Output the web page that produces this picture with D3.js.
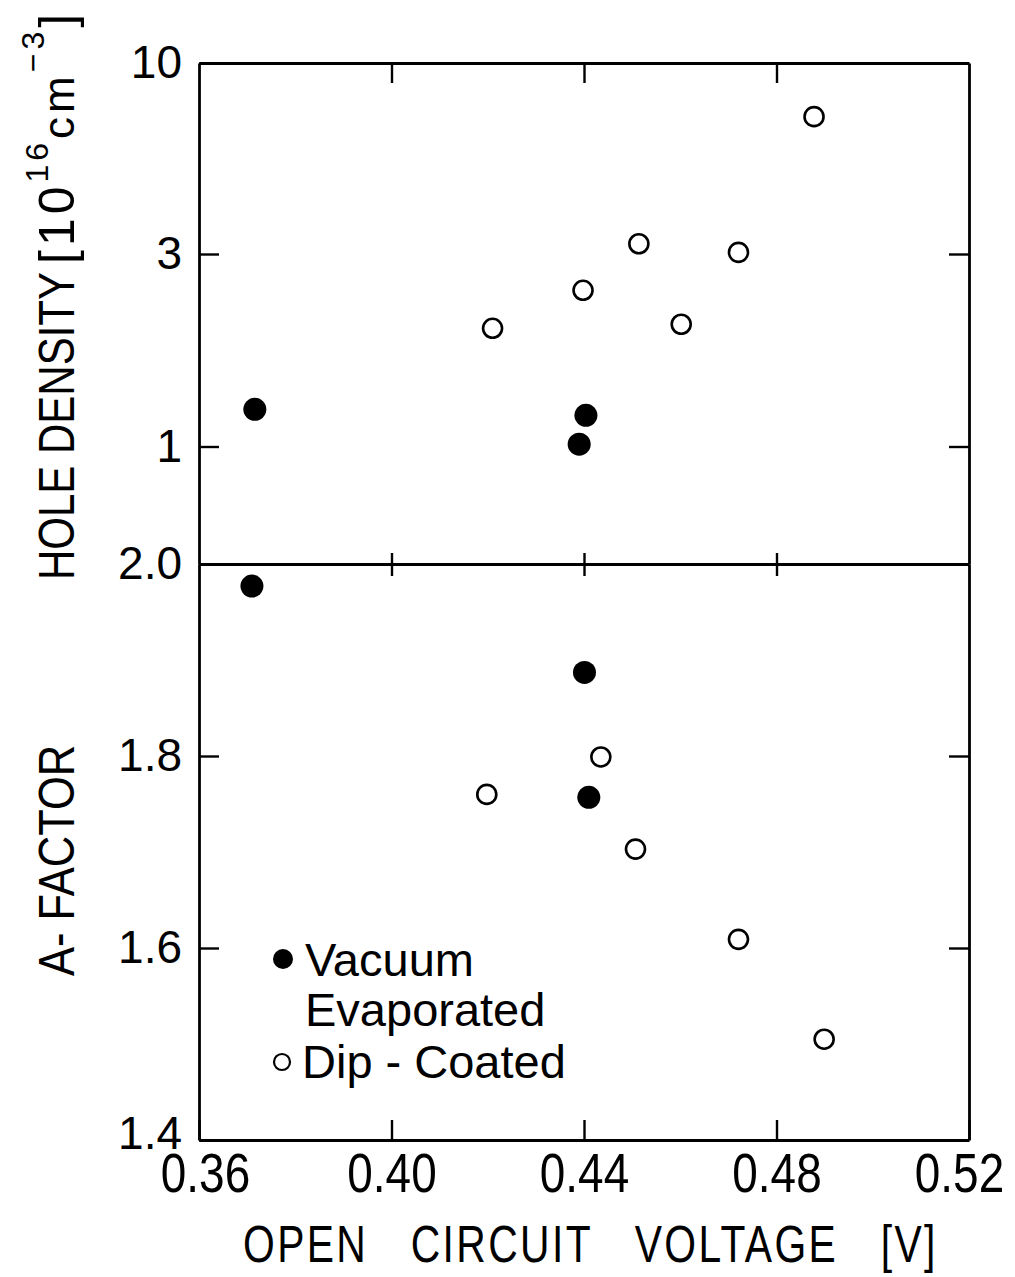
<!DOCTYPE html>
<html>
<head>
<meta charset="utf-8">
<script src="https://cdn.jsdelivr.net/npm/d3@7"></script>
<style>
  html, body { margin: 0; padding: 0; background: #fff; }
  svg { display: block; }
  .lab { font-family: "Liberation Sans", Arial, sans-serif; fill: #000; }
</style>
</head>
<body>
<svg id="chart" width="1015" height="1277"></svg>
<script>
// Open-circuit voltage of each cell [V] against hole density [1e16 cm^-3]
const vacuumVoc_density   = [0.3716, 0.4404, 0.4390];
const vacuumDensity       = [1.236, 1.195, 1.013];
const dipVoc_density      = [0.4210, 0.4398, 0.4514, 0.4602, 0.4721, 0.4878];
const dipDensity          = [1.963, 2.439, 3.20, 2.009, 3.03, 7.13];

// Open-circuit voltage against diode A-factor
const vacuumVoc_a = [0.3710, 0.4401, 0.4410];
const vacuumA     = [1.977, 1.887, 1.757];
const dipVoc_a    = [0.4198, 0.4435, 0.4507, 0.4721, 0.4899];
const dipA        = [1.760, 1.799, 1.703, 1.609, 1.505];

// Axis ticks
const xTicks       = [0.36, 0.40, 0.44, 0.48, 0.52];
const densityTicks = [1, 3, 10];
const aTicks       = [1.4, 1.6, 1.8, 2.0];
const legendItems  = [
  { lines: ["Vacuum", "Evaporated"], filled: true },
  { lines: ["Dip - Coated"], filled: false }
];

const svg = d3.select("#chart");
const L = 199, R = 969, T = 63, M = 564, B = 1140;

const x = d3.scaleLinear().domain([0.36, 0.52]).range([L, R]);
// hand-ruled log axis: decade spacing follows the printed tick marks
const yTop = d3.scaleLog().domain([0.5, 1, 3, 10]).range([M, 446.5, 254, T]);
const yBot = d3.scaleLinear().domain([1.4, 2.0]).range([B, M]);

const LW = 2.8, TICK = 20;

function style(g) {
  g.selectAll("path.domain").attr("stroke", "#000").attr("stroke-width", LW);
  g.selectAll(".tick line").attr("stroke", "#000").attr("stroke-width", 2.4);
  g.selectAll(".tick text").attr("class", "lab").attr("fill", "#000");
}

// ---- top panel: hole density ----
svg.append("g").attr("transform", `translate(${L},0)`)
  .call(d3.axisLeft(yTop).tickValues(densityTicks).tickFormat(d3.format("d"))
    .tickSizeInner(-TICK).tickSizeOuter(0).tickPadding(17))
  .call(style)
  .selectAll(".tick text").style("font-size", "46px");

svg.append("g").attr("transform", `translate(${R},0)`)
  .call(d3.axisRight(yTop).tickValues([1, 3]).tickFormat("")
    .tickSizeInner(-TICK).tickSizeOuter(0))
  .call(style);

svg.append("g").attr("transform", `translate(0,${T})`)
  .call(d3.axisTop(x).tickValues(xTicks.slice(1, -1)).tickFormat("")
    .tickSizeInner(-TICK).tickSizeOuter(0))
  .call(style);

// shared divider with crossing ticks
const mid = svg.append("g").attr("transform", `translate(0,${M})`)
  .call(d3.axisBottom(x).tickValues(xTicks.slice(1, -1)).tickFormat("")
    .tickSizeInner(12).tickSizeOuter(0))
  .call(style);
mid.selectAll(".tick line").attr("y1", -11);

// ---- bottom panel: A-factor ----
const aAxis = svg.append("g").attr("transform", `translate(${L},0)`)
  .call(d3.axisLeft(yBot).tickValues(aTicks).tickFormat(d3.format(".1f"))
    .tickSizeInner(-TICK).tickSizeOuter(0).tickPadding(17))
  .call(style);
aAxis.selectAll(".tick text").style("font-size", "46px")
  .attr("y", d => d === 1.4 ? -6 : 0);

svg.append("g").attr("transform", `translate(${R},0)`)
  .call(d3.axisRight(yBot).tickValues([1.6, 1.8]).tickFormat("")
    .tickSizeInner(-TICK).tickSizeOuter(0))
  .call(style);

// x labels: tall, condensed lettering
const xAxis = svg.append("g").attr("transform", `translate(0,${B})`)
  .call(d3.axisBottom(x).tickValues(xTicks).tickFormat(d3.format(".2f"))
    .tickSizeInner(-TICK).tickSizeOuter(0).tickPadding(12))
  .call(style);
xAxis.selectAll(".tick text")
  .style("font-size", "56px")
  .attr("x", 0)
  .attr("transform", d => `translate(${d === 0.36 ? 6 : d === 0.52 ? -10 : 0},0) scale(0.82,1)`);

// ---- markers ----
function plot(xs, ys, yScale, filled) {
  svg.append("g").selectAll("circle")
    .data(xs.map((v, i) => [v, ys[i]]))
    .join("circle")
    .attr("cx", d => x(d[0]))
    .attr("cy", d => yScale(d[1]))
    .attr("r", filled ? 11.5 : 9.5)
    .attr("fill", filled ? "#000" : "#fff")
    .attr("stroke", "#000")
    .attr("stroke-width", filled ? 0 : 2.6);
}
plot(vacuumVoc_density, vacuumDensity, yTop, true);
plot(dipVoc_density, dipDensity, yTop, false);
plot(vacuumVoc_a, vacuumA, yBot, true);
plot(dipVoc_a, dipA, yBot, false);

// ---- legend ----
const lg = svg.append("g");
lg.append("circle").attr("cx", 283).attr("cy", 959).attr("r", 10).attr("fill", "#000");
lg.append("text").attr("class", "lab").attr("x", 305).attr("y", 976)
  .style("font-size", "47px").text(legendItems[0].lines[0]);
lg.append("text").attr("class", "lab").attr("x", 305).attr("y", 1026)
  .style("font-size", "47px").text(legendItems[0].lines[1]);
lg.append("circle").attr("cx", 282).attr("cy", 1062).attr("r", 8)
  .attr("fill", "#fff").attr("stroke", "#000").attr("stroke-width", 2.2);
lg.append("text").attr("class", "lab").attr("x", 302).attr("y", 1078)
  .style("font-size", "47px").text(legendItems[1].lines[0]);

// ---- axis titles ----
svg.append("text").attr("class", "lab")
  .attr("transform", "translate(243,1262) scale(0.8,1)")
  .style("font-size", "51px").style("letter-spacing", "3px").style("word-spacing", "36px")
  .text("OPEN CIRCUIT VOLTAGE [V]");

svg.append("text").attr("class", "lab")
  .attr("transform", "translate(74,580) rotate(-90) scale(0.84,1)")
  .style("font-size", "50px")
  .text("HOLE DENSITY");

const unit = svg.append("text").attr("class", "lab")
  .attr("transform", "translate(74,264) rotate(-90)")
  .style("font-size", "50px").style("letter-spacing", "4px");
unit.append("tspan").text("[10");
unit.append("tspan").attr("dy", -26).style("font-size", "32px").text("16");
unit.append("tspan").attr("dy", 26).style("font-size", "44px").text("cm");
unit.append("tspan").attr("dy", -30).style("font-size", "32px").text("−3");
unit.append("tspan").attr("dy", 30).text("]");

svg.append("text").attr("class", "lab")
  .attr("transform", "translate(74,976) rotate(-90) scale(0.87,1)")
  .style("font-size", "50px")
  .text("A- FACTOR");
</script>
</body>
</html>
